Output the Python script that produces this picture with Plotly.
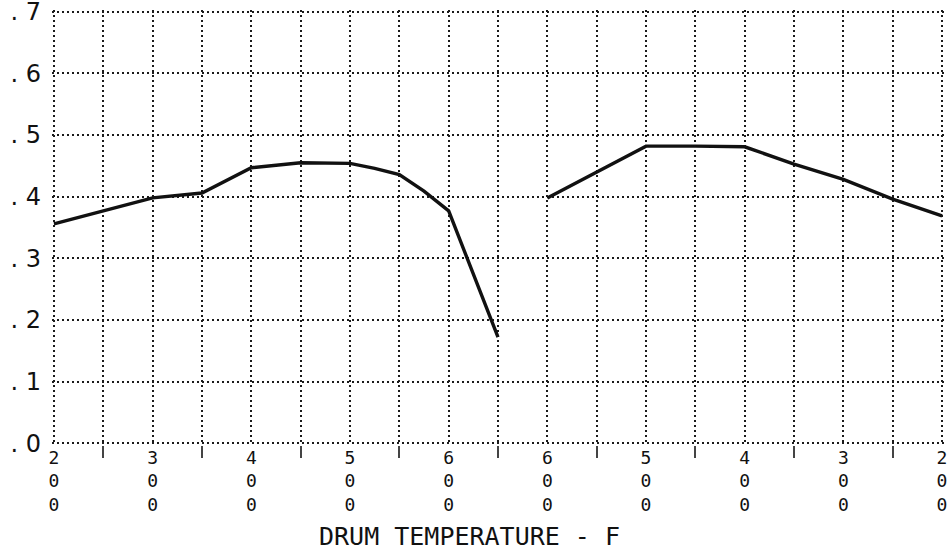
import plotly.graph_objects as go

# Positions along the run (each step = 50 F); heating 200->650, cooling 600->200
tick_positions = [0, 2, 4, 6, 8, 10, 12, 14, 16, 18]
tick_labels = ["200", "300", "400", "500", "600", "600", "500", "400", "300", "200"]

y_ticks = [0, 0.1, 0.2, 0.3, 0.4, 0.5, 0.6, 0.7]
y_labels = [". 0", ". 1", ". 2", ". 3", ". 4", ". 5", ". 6", ". 7"]

heat_x = [0, 1, 2, 3, 4, 5, 6, 6.5, 7, 7.5, 8, 9]
heat_y = [0.356, 0.377, 0.398, 0.406, 0.447, 0.455, 0.454, 0.446, 0.436, 0.409, 0.377, 0.172]

cool_x = [10, 11, 12, 13, 14, 15, 16, 17, 18]
cool_y = [0.398, 0.440, 0.482, 0.482, 0.481, 0.453, 0.428, 0.396, 0.369]

font = "DejaVu Sans Mono"
grid = dict(showgrid=True, gridcolor="#1a1a1a", gridwidth=1.8, griddash="2px,3px")

fig = go.Figure()
fig.add_trace(go.Scatter(x=heat_x, y=heat_y, mode="lines",
                         line=dict(color="#111", width=3.4), showlegend=False))
fig.add_trace(go.Scatter(x=cool_x, y=cool_y, mode="lines",
                         line=dict(color="#111", width=3.4), showlegend=False))

stacked = ["<br>".join(list(t)) for t in tick_labels]

fig.update_layout(
    width=948, height=550,
    margin=dict(l=52, r=4, t=10, b=105),
    paper_bgcolor="white", plot_bgcolor="white",
    font=dict(family=font, color="#111"),
    xaxis=dict(
        range=[-0.04, 18.04], tickmode="array", tickvals=tick_positions, ticktext=stacked,
        automargin=False, ticklabeloverflow="allow",
        zeroline=False, showline=False, ticks="", tickfont=dict(size=18, family=font),
        minor=dict(tickmode="array", tickvals=[1, 3, 5, 7, 9, 11, 13, 15, 17],
                   ticks="outside", ticklen=12, tickwidth=1.5, tickcolor="#444", **grid),
        **grid,
    ),
    yaxis=dict(
        range=[-0.003, 0.703], tickmode="array", tickvals=y_ticks, ticktext=y_labels,
        automargin=False, ticklabeloverflow="allow",
        zeroline=False, showline=False, ticks="", ticklabelstandoff=10,
        tickfont=dict(size=24, family="DejaVu Sans"),
        **grid,
    ),
    annotations=[dict(text="DRUM TEMPERATURE - F", xref="paper", yref="paper",
                      x=(469 - 52) / 892, y=-0.211, xanchor="center", yanchor="middle",
                      showarrow=False, font=dict(size=25, family=font, color="#111"))],
)

# remove the page's default body margin so the figure fills the window exactly
fig.write_html("out.html", config={"displayModeBar": False},
               post_script="document.body.style.margin='0';document.body.style.overflow='hidden';")
